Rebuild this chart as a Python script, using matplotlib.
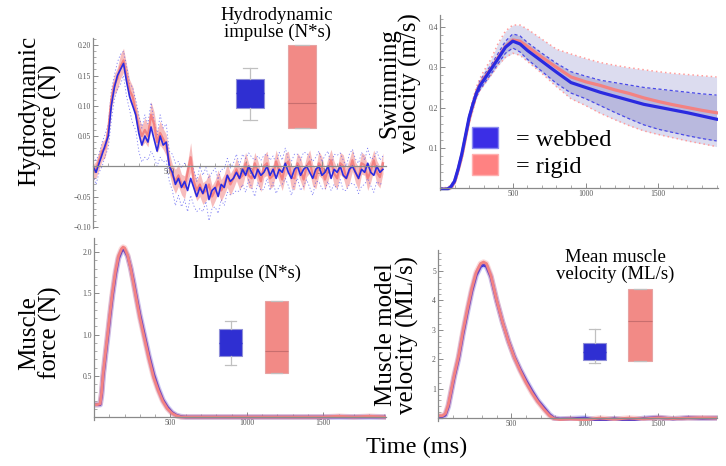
import numpy as np
import matplotlib
matplotlib.use("Agg")
import matplotlib.pyplot as plt
from matplotlib.patches import Patch
from matplotlib.ticker import MultipleLocator, FixedLocator

SERIF = ['Liberation Serif', 'DejaVu Serif']
plt.rcParams['font.family'] = SERIF

W, H = 726, 466
BLUE = '#2a2ae0'
RED = '#f38282'
AXC = '#8a8a8a'

# ---------------- data ----------------
# hydrodynamic force (N), sampled every 20 ms
t_hf = np.arange(0, 1901, 20)
hf_rigid = [-0.010, -0.005, 0.010, 0.025, 0.030, 0.060, 0.110, 0.135, 0.145, 0.165,
            0.175, 0.150, 0.125, 0.115, 0.090, 0.065, 0.050, 0.060, 0.050, 0.085,
            0.070, 0.040, 0.055, 0.045, 0.035,
            0.005, -0.015, -0.025, -0.015, -0.030, -0.035, -0.010, 0.015, -0.025, -0.040,
            -0.030, -0.045, -0.040, -0.030, -0.050, -0.040, -0.025, -0.040, -0.030, -0.015,
            -0.030, -0.020, -0.005, -0.020, -0.015, 0.005, -0.015, -0.020, 0.005, -0.010,
            -0.025, 0.000, 0.005, -0.020, -0.015, 0.008, -0.008, -0.022, 0.002, 0.008,
            -0.018, -0.020, 0.005, -0.005, -0.022, 0.000, 0.008, -0.015, -0.020, 0.005,
            -0.002, -0.022, -0.005, 0.010, -0.012, -0.020, 0.005, 0.000, -0.020, -0.008,
            0.010, -0.010, -0.020, 0.005, 0.002, -0.020, -0.008, 0.010, -0.010, -0.018,
            0.005]
hf_rigid_sd = [0.012, 0.014, 0.015, 0.016, 0.015, 0.018, 0.018, 0.017, 0.018, 0.020,
               0.020, 0.018, 0.018, 0.017, 0.016, 0.018, 0.017, 0.020, 0.018, 0.022,
               0.020, 0.018, 0.020, 0.017, 0.018, 0.017, 0.018, 0.020, 0.018, 0.017,
               0.019, 0.017, 0.024, 0.018, 0.017, 0.020, 0.018, 0.017, 0.019, 0.018,
               0.017, 0.019, 0.018, 0.017, 0.020, 0.018, 0.017, 0.019, 0.018, 0.017,
               0.018, 0.020, 0.017, 0.018, 0.019, 0.017, 0.018, 0.020, 0.017, 0.018,
               0.019, 0.017, 0.018, 0.020, 0.017, 0.018, 0.019, 0.017, 0.020, 0.018,
               0.017, 0.019, 0.018, 0.017, 0.020, 0.018, 0.017, 0.019, 0.018, 0.020,
               0.017, 0.018, 0.019, 0.017, 0.020, 0.018, 0.017, 0.019, 0.018, 0.017,
               0.020, 0.018, 0.017, 0.019, 0.018, 0.017]
hf_webbed = [0.000, -0.010, 0.005, 0.020, 0.035, 0.050, 0.100, 0.130, 0.150, 0.160,
             0.170, 0.140, 0.115, 0.100, 0.085, 0.055, 0.035, 0.050, 0.040, 0.065,
             0.045, 0.025, 0.050, 0.035, 0.040, 0.000, -0.010, -0.030, -0.020, -0.035,
             -0.025, -0.040, -0.020, -0.035, -0.050, -0.035, -0.045, -0.030, -0.055, -0.040,
             -0.035, -0.050, -0.030, -0.035, -0.015, -0.025, -0.020, -0.010, -0.020, -0.005,
             -0.015, 0.000, -0.010, -0.020, -0.005, -0.015, -0.010, 0.000, -0.015, -0.005,
             -0.020, -0.005, -0.010, 0.005, -0.010, -0.020, -0.005, 0.000, -0.015, -0.005,
             0.000, -0.010, -0.020, -0.005, 0.000, -0.015, -0.010, 0.000, -0.020, -0.005,
             -0.010, 0.000, -0.015, -0.020, -0.005, 0.000, -0.010, -0.020, -0.005, -0.010,
             0.005, -0.010, -0.015, 0.000, -0.010, -0.005]
hf_webbed_sd = [0.015, 0.020, 0.015, 0.020, 0.018, 0.020, 0.025, 0.020, 0.022, 0.025,
                0.020, 0.025, 0.022, 0.030, 0.025, 0.030, 0.028, 0.035, 0.030, 0.040,
                0.030, 0.025, 0.035, 0.028, 0.030, 0.025, 0.030, 0.035, 0.028, 0.032,
                0.030, 0.035, 0.028, 0.030, 0.025, 0.035, 0.030, 0.028, 0.035, 0.030,
                0.032, 0.028, 0.025, 0.030, 0.028, 0.022, 0.025, 0.030, 0.022, 0.025,
                0.028, 0.022, 0.025, 0.030, 0.022, 0.025, 0.028, 0.020, 0.025, 0.022,
                0.025, 0.028, 0.020, 0.025, 0.022, 0.028, 0.025, 0.020, 0.025, 0.028,
                0.022, 0.025, 0.028, 0.020, 0.025, 0.022, 0.028, 0.025, 0.020, 0.025,
                0.028, 0.022, 0.025, 0.020, 0.025, 0.028, 0.022, 0.025, 0.028, 0.020,
                0.025, 0.022, 0.028, 0.025, 0.020, 0.022]

# swimming velocity (m/s)
t_sv = [0, 50, 75, 100, 125, 150, 175, 200, 225, 250, 275, 300, 350, 400, 450, 500, 550,
        600, 700, 800, 900, 1000, 1100, 1200, 1300, 1400, 1500, 1600, 1700, 1800, 1900]
sv_rigid = [-0.003, -0.003, 0.002, 0.015, 0.045, 0.080, 0.125, 0.170, 0.205, 0.237, 0.258,
            0.272, 0.297, 0.325, 0.352, 0.368, 0.365, 0.352, 0.325, 0.300, 0.276, 0.264,
            0.255, 0.244, 0.235, 0.224, 0.215, 0.207, 0.200, 0.193, 0.187]
sv_rigid_hi = [0.001, 0.001, 0.007, 0.022, 0.054, 0.090, 0.136, 0.182, 0.218, 0.251, 0.273,
               0.290, 0.320, 0.360, 0.390, 0.405, 0.405, 0.395, 0.370, 0.345, 0.333, 0.322,
               0.312, 0.305, 0.299, 0.294, 0.289, 0.285, 0.282, 0.279, 0.276]
sv_rigid_lo = [-0.007, -0.007, -0.003, 0.008, 0.036, 0.070, 0.114, 0.158, 0.192, 0.223, 0.243,
               0.255, 0.280, 0.305, 0.325, 0.335, 0.330, 0.315, 0.285, 0.252, 0.222, 0.205,
               0.186, 0.170, 0.155, 0.142, 0.133, 0.125, 0.117, 0.110, 0.103]
sv_webbed = [-0.003, -0.003, 0.003, 0.017, 0.048, 0.085, 0.130, 0.175, 0.207, 0.235, 0.255,
             0.268, 0.295, 0.322, 0.350, 0.365, 0.358, 0.342, 0.315, 0.288, 0.262, 0.250,
             0.238, 0.228, 0.218, 0.208, 0.201, 0.194, 0.187, 0.179, 0.171]
sv_webbed_hi = [0.000, 0.000, 0.006, 0.021, 0.053, 0.090, 0.136, 0.181, 0.214, 0.244, 0.266,
                0.280, 0.305, 0.335, 0.365, 0.383, 0.378, 0.362, 0.335, 0.310, 0.289, 0.278,
                0.268, 0.262, 0.256, 0.250, 0.246, 0.242, 0.238, 0.234, 0.231]
sv_webbed_lo = [-0.006, -0.006, 0.000, 0.013, 0.043, 0.080, 0.124, 0.169, 0.200, 0.227, 0.245,
                0.258, 0.283, 0.310, 0.335, 0.348, 0.338, 0.320, 0.290, 0.260, 0.236, 0.222,
                0.205, 0.188, 0.172, 0.157, 0.146, 0.138, 0.130, 0.123, 0.117]

# muscle force (N)
t_mf = [0, 20, 40, 50, 60, 75, 90, 105, 120, 140, 160, 180, 190, 200, 220, 240, 260, 280,
        300, 330, 360, 390, 420, 450, 480, 510, 540, 570, 600, 700, 800, 900, 1000, 1100,
        1200, 1300, 1400, 1500, 1600, 1700, 1800, 1900]
mf_rigid = [0.15, 0.15, 0.16, 0.30, 0.53, 0.78, 1.02, 1.27, 1.50, 1.76, 1.95, 2.04, 2.06, 2.05,
            1.96, 1.80, 1.60, 1.40, 1.20, 0.95, 0.70, 0.48, 0.32, 0.19, 0.10, 0.045, 0.015, 0.0,
            0.0, 0.0, 0.0, 0.0, 0.0, 0.0, 0.0, 0.0, 0.0, 0.0, 0.01, 0.0, 0.01, 0.0]
mf_webbed = [0.15, 0.15, 0.15, 0.27, 0.50, 0.74, 0.98, 1.23, 1.46, 1.72, 1.92, 2.01, 2.03, 2.02,
             1.95, 1.81, 1.63, 1.43, 1.24, 0.99, 0.74, 0.52, 0.35, 0.21, 0.12, 0.055, 0.02, 0.005,
             0.0, 0.0, 0.0, 0.0, 0.0, 0.0, 0.0, 0.0, 0.0, 0.0, 0.0, 0.0, 0.0, 0.0]

# muscle model velocity (ML/s)
t_mv = [0, 30, 50, 70, 90, 110, 140, 170, 200, 230, 260, 290, 310, 330, 360, 400, 440, 480,
        520, 560, 600, 640, 680, 720, 760, 790, 830, 900, 1000, 1100, 1200, 1300, 1400, 1500,
        1600, 1700, 1800, 1900]
mv_rigid = [0.08, 0.08, 0.15, 0.45, 0.95, 1.45, 2.10, 2.95, 3.70, 4.40, 4.95, 5.25, 5.30, 5.25,
            4.85, 4.00, 3.25, 2.60, 2.05, 1.60, 1.20, 0.85, 0.55, 0.30, 0.08, -0.02, -0.05, -0.03,
            -0.06, 0.00, -0.04, 0.00, -0.03, 0.01, -0.02, 0.00, 0.01, 0.00]
mv_webbed = [0.05, 0.05, 0.10, 0.38, 0.88, 1.38, 2.02, 2.85, 3.60, 4.30, 4.85, 5.15, 5.20, 5.15,
             4.80, 3.98, 3.25, 2.62, 2.08, 1.65, 1.27, 0.92, 0.60, 0.36, 0.12, 0.00, -0.03, -0.02,
             0.00, -0.08, -0.02, -0.08, -0.01, 0.02, -0.03, 0.01, -0.01, 0.00]

# box-whisker summaries: (whislo, q1, med, q3, whishi)
imp_hydro_webbed = (0.0180, 0.0216, 0.0260, 0.0303, 0.0336)
imp_hydro_rigid = (0.0156, 0.0156, 0.0231, 0.0405, 0.0405)
imp_muscle_webbed = (0.060, 0.072, 0.090, 0.108, 0.119)
imp_muscle_rigid = (0.049, 0.049, 0.079, 0.145, 0.145)
vel_muscle_webbed = (1.73, 1.83, 2.10, 2.40, 2.87)
vel_muscle_rigid = (1.80, 1.80, 3.13, 4.20, 4.20)


def frac(l, t, r, b):
    return [l / W, 1 - b / H, (r - l) / W, (b - t) / H]


def style_axes(ax, xlim, ylim, ymaj, ymin, yfmt):
    ax.set_xlim(*xlim)
    ax.set_ylim(*ylim)
    ax.set_facecolor('none')
    for s in ['top', 'right']:
        ax.spines[s].set_visible(False)
    ax.spines['bottom'].set_position(('data', 0))
    for s in ['bottom', 'left']:
        ax.spines[s].set_color(AXC)
        ax.spines[s].set_linewidth(0.9)
    ax.xaxis.set_major_locator(FixedLocator([500, 1000, 1500]))
    ax.xaxis.set_minor_locator(MultipleLocator(100))
    ax.yaxis.set_major_locator(FixedLocator(ymaj))
    ax.yaxis.set_minor_locator(MultipleLocator(ymin))
    ax.set_yticklabels([yfmt(v) for v in ymaj])
    ax.tick_params(which='both', direction='in', color=AXC, labelsize=5.5,
                   labelcolor='#555555', pad=1.5)
    ax.tick_params(which='major', length=3.5, width=0.7)
    ax.tick_params(which='minor', length=2, width=0.5)


def inset_boxes(l, t, r, b, ylim, stats_w, stats_r):
    ax = fig.add_axes(frac(l, t, r, b))
    ax.set_axis_off()
    st = []
    for s in (stats_w, stats_r):
        st.append(dict(whislo=s[0], q1=s[1], med=s[2], q3=s[3], whishi=s[4], fliers=[]))
    bp = ax.bxp(st, positions=[1, 2], widths=0.52, patch_artist=True, showfliers=False)
    for patch, fc, ec in zip(bp['boxes'], ['#2f2fd2', '#f28a86'], ['#8f8fd8', '#e6a3a3']):
        patch.set_facecolor(fc)
        patch.set_edgecolor(ec)
        patch.set_linewidth(0.8)
    bp['medians'][0].set_color('#2f2fd2')
    bp['medians'][1].set_color('#c86e6e')
    bp['medians'][1].set_linewidth(0.8)
    for w in bp['whiskers'] + bp['caps']:
        w.set_color('#c0c0c0')
        w.set_linewidth(0.9)
    ax.set_xlim(0.5, 2.5)
    ax.set_ylim(*ylim)
    return ax


fig = plt.figure(figsize=(W / 100, H / 100), dpi=100)

# ---------- top left: hydrodynamic force ----------
ax1 = fig.add_axes(frac(93, 38, 386, 228))
hr = np.array(hf_rigid)
hrs = np.array(hf_rigid_sd)
hw = np.array(hf_webbed)
hws = np.array(hf_webbed_sd)
ax1.plot(t_hf, hw + hws, color='#4848f0', lw=0.6, ls=(0, (1.5, 2.5)), alpha=0.7)
ax1.plot(t_hf, hw - hws, color='#4848f0', lw=0.6, ls=(0, (1.5, 2.5)), alpha=0.7)
ax1.fill_between(t_hf, hr - hrs, hr + hrs, color='#f39a9a', alpha=0.65, lw=0)
ax1.plot(t_hf, hr, color=RED, lw=1.6)
ax1.plot(t_hf, hw, color=BLUE, lw=1.2)
style_axes(ax1, (0, 1920), (-0.102, 0.212),
           [-0.10, -0.05, 0.05, 0.10, 0.15, 0.20], 0.01,
           lambda v: ('%.2f' % v).replace('-', '\u2212'))

# ---------- top right: swimming velocity ----------
ax2 = fig.add_axes(frac(440, 15, 718, 190))
ax2.fill_between(t_sv, sv_rigid_lo, sv_rigid_hi, color='#dcdcef', lw=0)
ax2.fill_between(t_sv, sv_webbed_lo, sv_webbed_hi, color='#b9b9de', lw=0)
for arr in (sv_rigid_hi, sv_rigid_lo):
    ax2.plot(t_sv, arr, color='#ff9c9c', lw=1.1, ls=(0, (1, 2)))
for arr in (sv_webbed_hi, sv_webbed_lo):
    ax2.plot(t_sv, arr, color='#4a4ae8', lw=0.9, ls=(0, (2.5, 2)))
ax2.plot(t_sv, sv_rigid, color=RED, lw=2.3)
ax2.plot(t_sv, sv_webbed, color=BLUE, lw=2.3)
style_axes(ax2, (0, 1910), (-0.005, 0.43), [0.1, 0.2, 0.3, 0.4], 0.02,
           lambda v: '%.1f' % v)
ax2.legend(handles=[Patch(facecolor='#3b2ee6', edgecolor='#8a8af0'),
                    Patch(facecolor='#ff8282', edgecolor='#ffb0b0')],
           labels=['= webbed', '= rigid'], frameon=False,
           prop=dict(family=SERIF, size=17.5),
           handlelength=1.05, handleheight=0.95, handletextpad=0.75,
           labelspacing=0.12, loc='upper left',
           bbox_to_anchor=(472 / W, 1 - 127 / H), bbox_transform=fig.transFigure,
           borderaxespad=0, borderpad=0)

# ---------- bottom left: muscle force ----------
ax3 = fig.add_axes(frac(94, 238, 386, 420))
ax3.plot(t_mf, mf_webbed, color=BLUE, lw=4, alpha=0.25)
ax3.plot(t_mf, mf_webbed, color=BLUE, lw=2)
ax3.plot(t_mf, mf_rigid, color=RED, lw=4, alpha=0.3)
ax3.plot(t_mf, mf_rigid, color=RED, lw=2)
style_axes(ax3, (0, 1910), (-0.036, 2.17), [0.5, 1.0, 1.5, 2.0], 0.1,
           lambda v: '%.1f' % v)

# ---------- bottom right: muscle model velocity ----------
ax4 = fig.add_axes(frac(438, 250, 717, 421))
ax4.plot(t_mv, mv_webbed, color=BLUE, lw=4, alpha=0.25)
ax4.plot(t_mv, mv_webbed, color=BLUE, lw=2)
ax4.plot(t_mv, mv_rigid, color=RED, lw=4, alpha=0.3)
ax4.plot(t_mv, mv_rigid, color=RED, lw=2)
style_axes(ax4, (0, 1900), (-0.10, 5.71), [1, 2, 3, 4, 5], 0.2,
           lambda v: '%d' % v)

# ---------- inset box charts ----------
inset_boxes(224, 40, 328, 130, (0.015, 0.042), imp_hydro_webbed, imp_hydro_rigid)
inset_boxes(207.5, 290, 299.5, 380, (0.04, 0.16), imp_muscle_webbed, imp_muscle_rigid)
inset_boxes(571.75, 280, 662.75, 370, (1.5, 4.5), vel_muscle_webbed, vel_muscle_rigid)

# ---------- text ----------
def ftext(x, y, s, size, rot=0):
    fig.text(x / W, 1 - y / H, s, fontsize=size, rotation=rot, ha='center',
             va='center', linespacing=0.95, color='black', family=SERIF)

ftext(40, 111, 'Hydrodynamic\nforce (N)', 18, 90)
ftext(400, 83, 'Swimming\nvelocity (m/s)', 18, 90)
ftext(40, 333, 'Muscle\nforce (N)', 18, 90)
ftext(397, 335, 'Muscle model\nvelocity (ML/s)', 18, 90)
ftext(277, 24, 'Hydrodynamic\nimpulse (N*s)', 13.5)
ftext(247, 273, 'Impulse (N*s)', 13.5)
ftext(615, 266, 'Mean muscle\nvelocity (ML/s)', 13.5)
ftext(417, 447, 'Time (ms)', 17.5)

fig.savefig('out.png', dpi=100)
